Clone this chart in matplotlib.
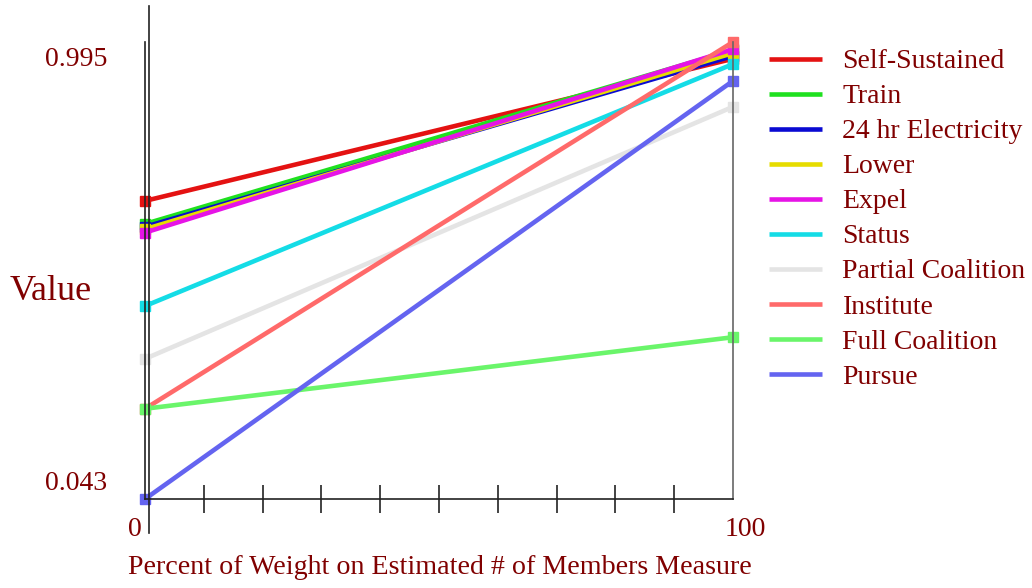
import matplotlib
matplotlib.use("Agg")
import matplotlib.pyplot as plt
from matplotlib.lines import Line2D

W, H = 1032, 588
DARKRED = "#800000"
FONT = "Liberation Serif"

# data: value at 0 % and at 100 % weight
X = [0, 100]
NAMES = ["Self-Sustained", "Train", "24 hr Electricity", "Lower", "Expel",
         "Status", "Partial Coalition", "Institute", "Full Coalition", "Pursue"]
AT_0 = [0.664, 0.616, 0.610, 0.605, 0.598, 0.445, 0.335, 0.231, 0.231, 0.043]
AT_100 = [0.960, 0.978, 0.966, 0.972, 0.980, 0.949, 0.860, 0.995, 0.380, 0.914]
COLORS = ["#e41212", "#1fe01f", "#0a0ad2", "#e6dc00", "#e614e6",
          "#14dce6", "#e4e4e4", "#ff6a6a", "#6af56a", "#6464f0"]
YTICKS = [0.043, 0.995]
XTICKS = [0, 100]


def fx(px):
    return px / W


def fy(py):
    return 1 - py / H


fig = plt.figure(figsize=(W / 100, H / 100), dpi=100)
ax = fig.add_axes([fx(145), fy(499), (733 - 145) / W, (499 - 42) / H])

for name, a, b, c in zip(NAMES, AT_0, AT_100, COLORS):
    ax.plot(X, [a, b], "-s", color=c, lw=3.3, ms=7, label=name,
            solid_capstyle="butt", clip_on=False)

ax.set_xlim(0, 100)
ax.set_ylim(YTICKS[0], YTICKS[1])
ax.spines["top"].set_visible(False)
ax.spines["left"].set_color("#222")
ax.spines["right"].set_color("#666")
ax.spines["bottom"].set_color("#222")
for s in ax.spines.values():
    s.set_linewidth(1.2)
ax.set_xticks(range(10, 100, 10))
ax.set_xticklabels([])
ax.set_yticks([])
ax.tick_params(axis="x", direction="inout", length=20, width=1.2, color="#222")

# long axis line just right of x=0
fig.add_artist(Line2D([fx(148.5), fx(148.5)], [fy(6), fy(533)], color="#222", lw=1.2))

# y tick labels sit inside the value range, near their values
for v, dy in zip(YTICKS, [11, -12.5]):
    ax.annotate(f"{v:.3f}", xy=(0, v), xycoords="data", xytext=(-27, dy),
                textcoords="offset points", ha="right", va="center",
                fontsize=20, family=FONT, color=DARKRED)
for v, dx in zip(XTICKS, [-7, 9]):
    ax.annotate(f"{v:d}", xy=(v, YTICKS[0]), xycoords="data", xytext=(dx, -22),
                textcoords="offset points", ha="center", va="center",
                fontsize=20, family=FONT, color=DARKRED)

fig.text(fx(10), fy(292), "Value", ha="left", va="center",
         fontsize=26, family=FONT, color=DARKRED)
fig.text(fx(440), fy(568), "Percent of Weight on Estimated # of Members Measure",
         ha="center", va="center", fontsize=20.2, family=FONT, color=DARKRED)

leg = fig.legend(*ax.get_legend_handles_labels(), loc="upper left",
                 bbox_to_anchor=(fx(755), fy(35)), frameon=False,
                 prop={"family": FONT, "size": 20}, handlelength=1.9,
                 handletextpad=0.75, labelspacing=0.345, borderpad=0)
for t in leg.get_texts():
    t.set_color(DARKRED)
for h in leg.legend_handles:
    h.set_marker("")

fig.savefig("out.png", dpi=100)
